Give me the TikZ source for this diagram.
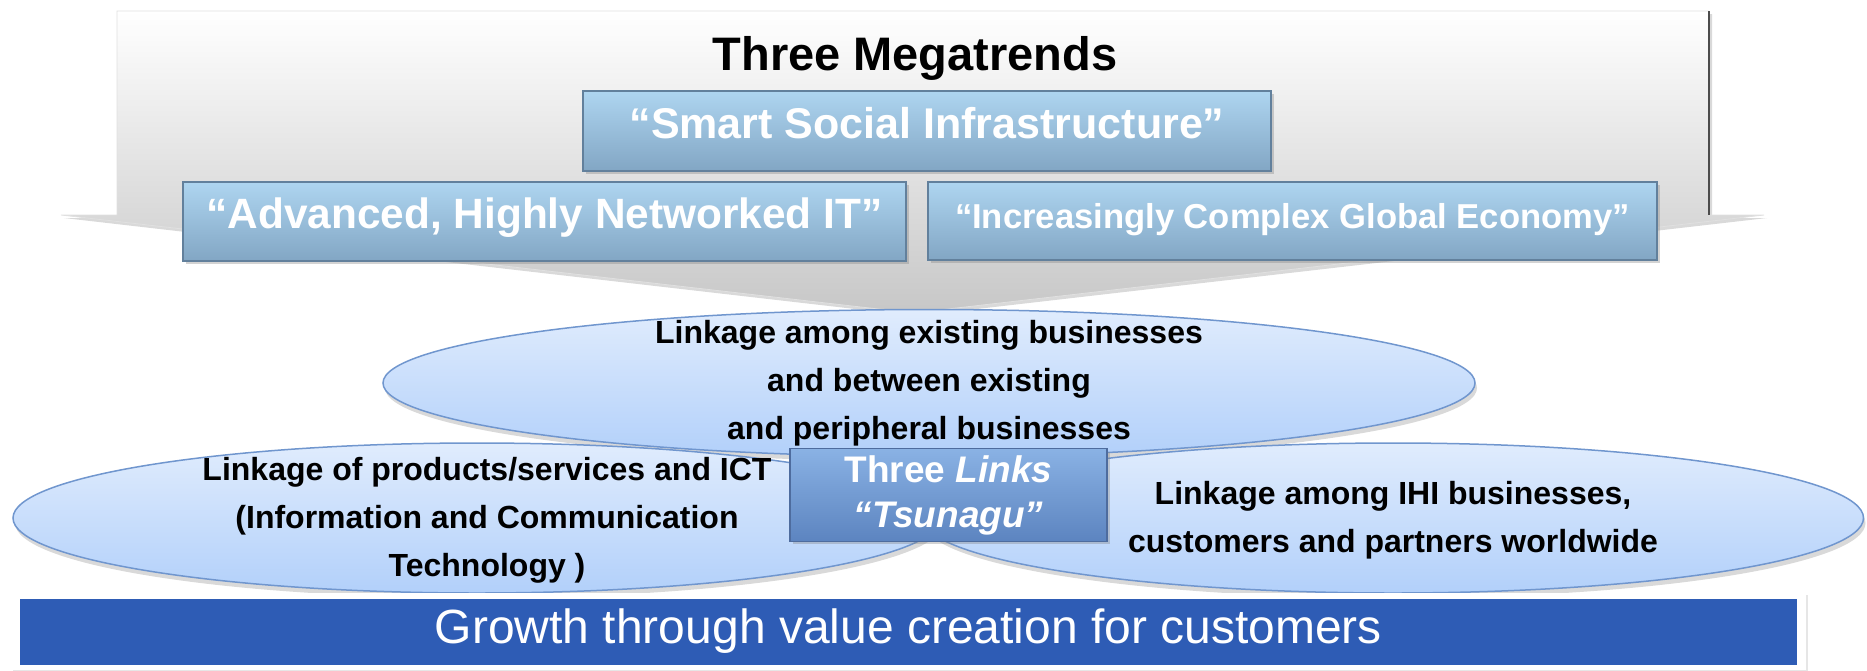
\documentclass[tikz,border=0pt]{standalone}
\usepackage{fontspec}
\setmainfont{Liberation Sans}
\usetikzlibrary{shapes.geometric,shadows,positioning}
\definecolor{trendtop}{RGB}{174,213,240}
\definecolor{trendbot}{RGB}{130,166,196}
\definecolor{trendedge}{RGB}{98,128,156}
\definecolor{ellitop}{RGB}{224,236,253}
\definecolor{ellibot}{RGB}{178,208,250}
\definecolor{elliedge}{RGB}{112,150,206}
\definecolor{linktop}{RGB}{138,178,228}
\definecolor{linkbot}{RGB}{92,132,192}
\definecolor{linkedge}{RGB}{78,108,158}
\definecolor{growthblue}{RGB}{46,92,181}
\tikzset{
  trendarrow/.style={ % big arrow holding the megatrends
    draw=black!12, thin, top color=white, bottom color=black!22,
    drop shadow={opacity=0.3, shadow xshift=1.5pt, shadow yshift=-1.5pt}
  },
  trend/.style={ % one megatrend box
    rectangle, draw=trendedge, thick, top color=trendtop, bottom color=trendbot,
    text=white, inner sep=0pt, text height=0.9em, text depth=0.18em,
    drop shadow={opacity=0.35, shadow xshift=1.5pt, shadow yshift=-1.5pt}
  },
  linkellipse/.style={ % one of the linkage ellipses
    ellipse, draw=elliedge, line width=0.75pt, inner sep=0pt,
    top color=ellitop, bottom color=ellibot,
    drop shadow={opacity=0.3, shadow xshift=1pt, shadow yshift=-2.5pt}
  },
  linktext/.style={ % text inside an ellipse
    align=center, font=\bfseries\fontsize{16}{24}\selectfont
  },
  linkbox/.style={ % the Three Links box
    rectangle, draw=linkedge, thick, top color=linktop, bottom color=linkbot,
    text=white, align=center, font=\bfseries\fontsize{18.5}{22.5}\selectfont,
    drop shadow={opacity=0.35, shadow xshift=1.5pt, shadow yshift=-1.5pt}
  }
}
\begin{document}
\begin{tikzpicture}[x=0.5pt, y=-0.5pt]
  \useasboundingbox (0,0) rectangle (1867,670);

  % the arrow of the three megatrends
  \draw[trendarrow] (117,11) -- (1709,11) -- (1709,215) -- (1764,215)
    -- (913,313) -- (61,215) -- (117,215) -- cycle;
  \draw[black!70, semithick] (1709,11) -- (1709,215);

  \node[font=\bfseries\fontsize{23.5}{28}\selectfont, anchor=base] (title) at (915,70) {Three Megatrends};
  \node[trend, minimum width=344pt, minimum height=40pt, font=\bfseries\fontsize{21.5}{26}\selectfont]
    (smart) at (927,131) {“Smart Social Infrastructure”};
  \node[trend, minimum width=361.5pt, minimum height=39.5pt, font=\bfseries\fontsize{21.2}{26}\selectfont]
    (advanced) at (544.5,221.5) {“Advanced, Highly Networked IT”};
  \node[trend, minimum width=364.5pt, minimum height=39pt, font=\bfseries\fontsize{17.3}{22}\selectfont]
    (economy) at (1292.5,221) {“Increasingly Complex Global Economy”};

  % the three links
  \node[linkellipse, minimum width=546pt, minimum height=73.5pt] (top_ell) at (929,383) {};
  \node[linkellipse, minimum width=464pt, minimum height=75pt] (left_ell) at (477,518) {};
  \node[linkellipse, minimum width=470.5pt, minimum height=75pt] (right_ell) at (1393,518) {};

  \node[linktext] (top_text) at (top_ell.center) {Linkage among existing businesses\\and between existing\\and peripheral businesses};
  \node[linktext] (left_text) at ([xshift=5pt,yshift=-1pt]left_ell.center) {Linkage of products/services and ICT\\(Information and Communication\\Technology )};
  \node[linktext] (right_text) at ([yshift=-1pt]right_ell.center) {Linkage among IHI businesses,\\customers and partners worldwide};

  \node[linkbox, minimum width=158.5pt, minimum height=46pt] (links) at (948.5,495) {Three \textit{Links}\\\textit{“Tsunagu”}};

  % growth bar
  \node[fill=white, minimum width=897.5pt, minimum height=38.5pt, inner sep=0pt,
    drop shadow={opacity=0.2, shadow xshift=1pt, shadow yshift=-1pt}] (frame) at (908.5,631.5) {};
  \node[fill=growthblue, minimum width=888.5pt, minimum height=33pt, inner sep=0pt,
    text=white, font=\fontsize{24}{28}\selectfont] (growth) at (frame.center) {Growth through value creation for customers};
\end{tikzpicture}
\end{document}
